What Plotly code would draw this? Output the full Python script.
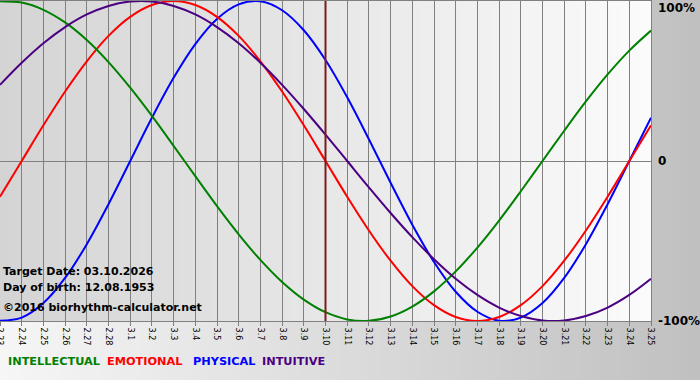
import plotly.graph_objects as go

dates = ["2.23", "2.24", "2.25", "2.26", "2.27", "2.28",
         "3.1", "3.2", "3.3", "3.4", "3.5", "3.6", "3.7", "3.8", "3.9", "3.10",
         "3.11", "3.12", "3.13", "3.14", "3.15", "3.16", "3.17", "3.18", "3.19",
         "3.20", "3.21", "3.22", "3.23", "3.24", "3.25"]

physical = [-0.998, -0.979, -0.888, -0.731, -0.520, -0.270, 0.0, 0.270, 0.520, 0.731,
            0.888, 0.979, 0.998, 0.942, 0.817, 0.631, 0.398, 0.136, -0.136, -0.398,
            -0.631, -0.817, -0.942, -0.998, -0.979, -0.888, -0.731, -0.520, -0.270, 0.0,
            0.270]

emotional = [-0.223, 0.0, 0.223, 0.434, 0.623, 0.782, 0.901, 0.975, 1.0, 0.975,
             0.901, 0.782, 0.623, 0.434, 0.223, 0.0, -0.223, -0.434, -0.623, -0.782,
             -0.901, -0.975, -1.0, -0.975, -0.901, -0.782, -0.623, -0.434, -0.223, 0.0,
             0.223]

intellectual = [0.999, 0.990, 0.945, 0.866, 0.756, 0.618, 0.458, 0.282, 0.095, -0.095,
                -0.282, -0.458, -0.618, -0.756, -0.866, -0.945, -0.990, -0.999, -0.972, -0.910,
                -0.815, -0.690, -0.541, -0.372, -0.189, 0.0, 0.189, 0.372, 0.541, 0.690,
                0.815]

intuitive = [0.476, 0.614, 0.736, 0.837, 0.916, 0.969, 0.997, 0.997, 0.969, 0.916,
             0.837, 0.736, 0.614, 0.476, 0.325, 0.165, 0.0, -0.165, -0.325, -0.476,
             -0.614, -0.736, -0.837, -0.916, -0.969, -0.997, -0.997, -0.969, -0.916, -0.837,
             -0.736]

target_date = "3.10"
series_names = ["INTELLECTUAL", "EMOTIONAL", "PHYSICAL", "INTUITIVE"]
series_colors = ["#008000", "#ff0000", "#0000ff", "#4b0082"]
info_lines = ["Target Date: 03.10.2026", "Day of birth: 12.08.1953",
              "\u00a92016 biorhythm-calculator.net"]
y_labels = ["100%", "0", "-100%"]

W, H = 700, 380
ML, MR, MT, MB = 0, 49, 1, 59
PW, PH = W - ML - MR, H - MT - MB


def px_x(px):
    return (px - ML) / PW


def px_y(py):
    return (H - MB - py) / PH


def mix(c1, c2, t):
    return "rgb(%d,%d,%d)" % tuple(round(a + (b - a) * t) for a, b in zip(c1, c2))


shapes = []
# paper gradient
n = 70
for i in range(n):
    x0 = i * W / n
    x1 = (i + 1) * W / n + 1
    shapes.append(dict(type="rect", xref="paper", yref="paper", layer="below",
                       x0=px_x(x0), x1=px_x(x1), y0=px_y(H), y1=px_y(0),
                       fillcolor=mix((246, 246, 246), (192, 192, 192), (i + 0.5) / n),
                       line=dict(width=0)))
# plot-area gradient
n = 65
for i in range(n):
    x0 = ML + i * PW / n
    x1 = min(ML + (i + 1) * PW / n + 1, ML + PW)
    shapes.append(dict(type="rect", xref="paper", yref="paper", layer="below",
                       x0=px_x(x0), x1=px_x(x1), y0=0, y1=1,
                       fillcolor=mix((212, 212, 212), (251, 251, 251), (i + 0.5) / n),
                       line=dict(width=0)))
# target line
shapes.append(dict(type="line", xref="x", yref="paper", layer="above",
                   x0=dates.index(target_date), x1=dates.index(target_date), y0=0, y1=1,
                   line=dict(color="#7a1c1c", width=2)))

fig = go.Figure()
order = [(physical, 2), (emotional, 1), (intellectual, 0), (intuitive, 3)]
for vals, k in order:
    fig.add_trace(go.Scatter(x=dates, y=vals, mode="lines", name=series_names[k],
                             line=dict(color=series_colors[k], width=2, shape="spline",
                                       smoothing=1.0),
                             hoverinfo="skip"))

annotations = []
bold = "DejaVu Sans"
for txt, py in zip(info_lines, [271, 287, 307]):
    annotations.append(dict(text="<b>%s</b>" % txt, xref="paper", yref="paper",
                            x=px_x(1), y=px_y(py), xanchor="left", yanchor="middle",
                            showarrow=False, font=dict(family=bold, size=11, color="black")))
for name, color, xpx in zip(series_names, series_colors, [6, 105, 191, 260]):
    annotations.append(dict(text="<b>%s</b>" % name, xref="paper", yref="paper",
                            x=px_x(xpx), y=px_y(361), xanchor="left", yanchor="middle",
                            showarrow=False, font=dict(family=bold, size=11.3, color=color)))
for txt, py in zip(y_labels, [8, 161, 321]):
    annotations.append(dict(text="<b>%s</b>" % txt, xref="paper", yref="paper",
                            x=px_x(656), y=px_y(py), xanchor="left", yanchor="middle",
                            showarrow=False, font=dict(family=bold, size=12, color="black")))

fig.update_layout(
    width=W, height=H,
    margin=dict(l=ML, r=MR, t=MT, b=MB, pad=0, autoexpand=False),
    paper_bgcolor="rgba(0,0,0,0)", plot_bgcolor="rgba(0,0,0,0)",
    showlegend=False,
    shapes=shapes,
    annotations=annotations,
    xaxis=dict(type="category", categoryorder="array", categoryarray=dates,
               range=[0, len(dates) - 1], showgrid=True, gridcolor="#808080", gridwidth=1,
               ticks="outside", ticklen=4, tickcolor="#808080", tickwidth=1,
               tickangle=90, tickfont=dict(family="DejaVu Sans", size=8, color="black"),
               showline=True, linecolor="#808080", linewidth=1, mirror=True,
               zeroline=False, fixedrange=True, automargin=False),
    yaxis=dict(range=[-1, 1], showticklabels=False, showgrid=False, ticks="",
               zeroline=True, zerolinecolor="#808080", zerolinewidth=1,
               showline=True, linecolor="#808080", linewidth=1, mirror=True,
               fixedrange=True, automargin=False),
)

fig.write_html("out.html", config={"displayModeBar": False},
               post_script="document.body.style.margin='0';document.body.style.overflow='hidden';")
